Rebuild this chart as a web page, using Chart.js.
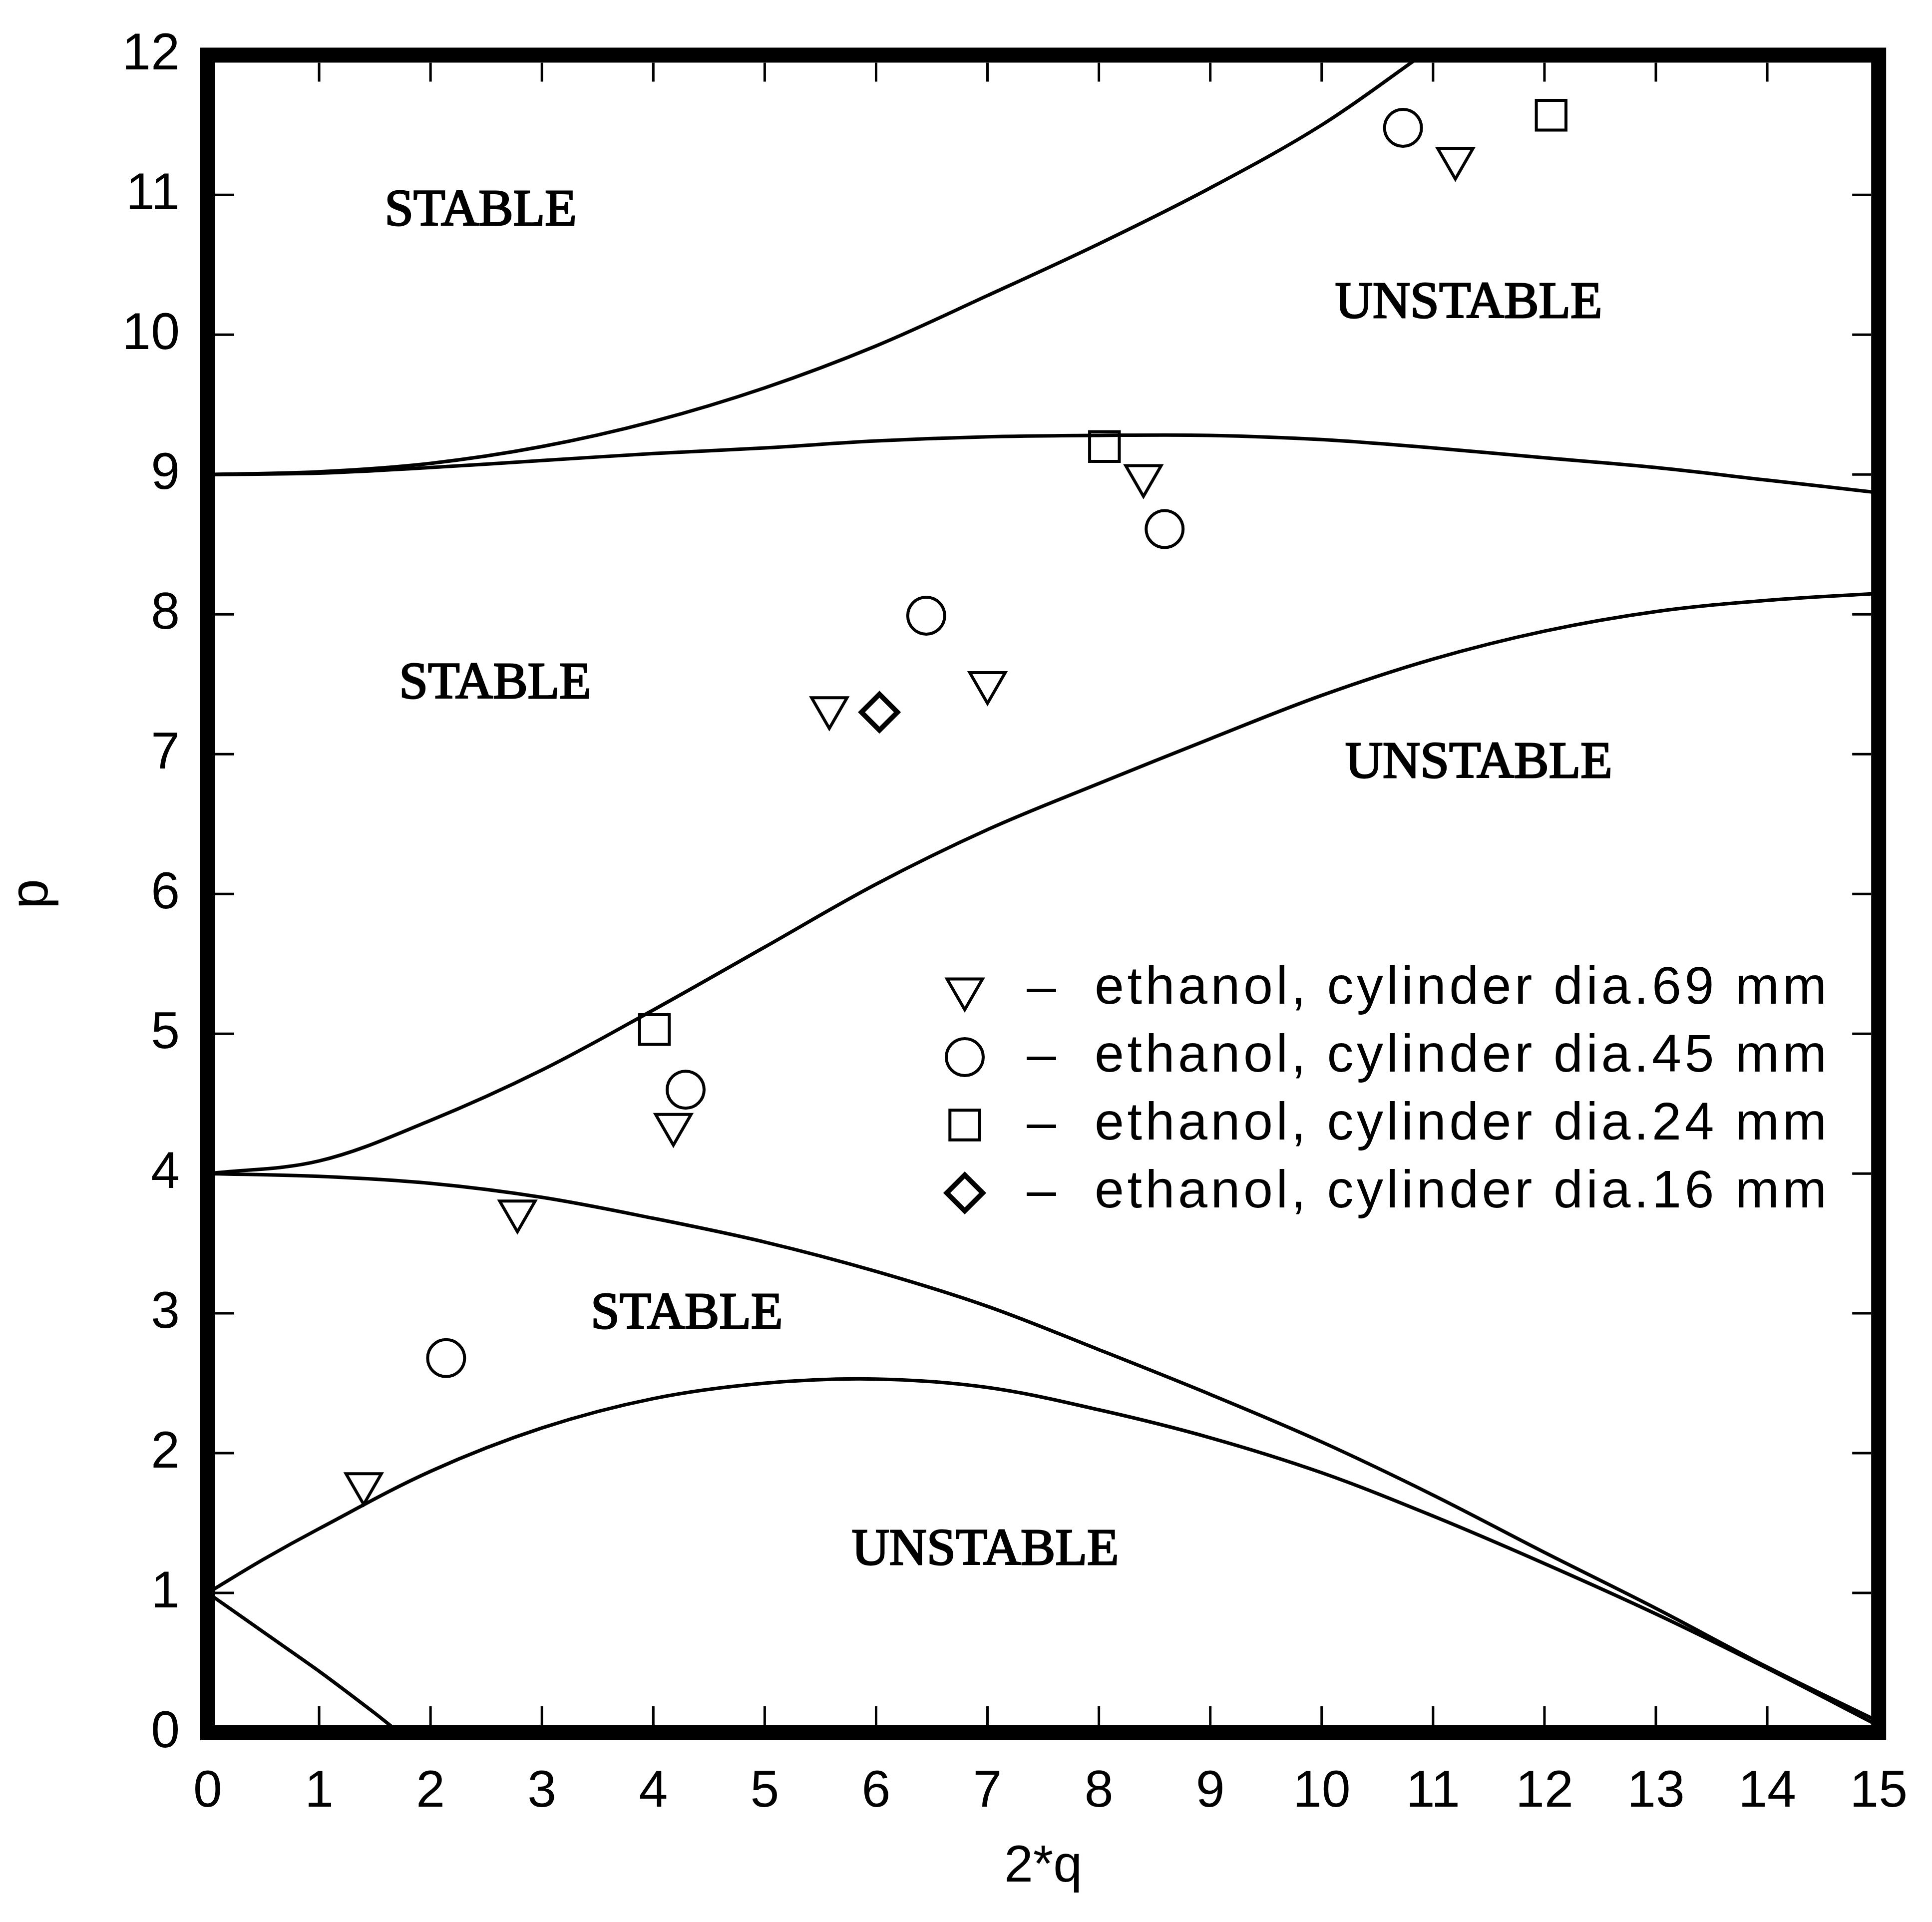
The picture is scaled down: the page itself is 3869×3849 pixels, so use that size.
<!DOCTYPE html>
<html>
<head>
<meta charset="utf-8">
<title>Mathieu stability chart</title>
<script src="https://cdn.jsdelivr.net/npm/chart.js@4.4.1/dist/chart.umd.min.js"></script>
<style>
  html, body { margin: 0; padding: 0; background: #fff; }
  canvas { display: block; }
</style>
</head>
<body>
<canvas id="stability" width="3869" height="3849"></canvas>
<script>
// Boundary curves, p against 2*q
const b1Q = [0, 0.5, 1, 1.5, 1.72];
const b1P = [1.00, 0.72, 0.44, 0.14, 0.00];

const a1Q = [0, 0.5, 1, 2, 3, 4, 5, 6, 7, 8, 9, 10, 11, 12, 13, 14, 15];
const a1P = [1.00, 1.24, 1.46, 1.87, 2.18, 2.39, 2.50, 2.53, 2.47, 2.31, 2.11, 1.86, 1.55, 1.21, 0.85, 0.46, 0.05];

const b2Q = [0, 1, 2, 3, 4, 5, 6, 7, 8, 9, 10, 11, 12, 13, 14, 15];
const b2P = [4.00, 3.98, 3.93, 3.83, 3.68, 3.51, 3.30, 3.05, 2.74, 2.42, 2.08, 1.70, 1.29, 0.89, 0.47, 0.08];

const a2Q = [0, 1, 2, 3, 4, 5, 6, 7, 8, 9, 10, 11, 12, 13, 14, 15];
const a2P = [4.00, 4.09, 4.38, 4.74, 5.17, 5.62, 6.07, 6.46, 6.79, 7.11, 7.42, 7.68, 7.88, 8.02, 8.10, 8.15];

const b3Q = [0, 1, 2, 3, 4, 5, 6, 7, 8, 9, 10, 11, 12, 13, 14, 15];
const b3P = [9.00, 9.01, 9.05, 9.10, 9.15, 9.19, 9.24, 9.27, 9.28, 9.28, 9.25, 9.19, 9.12, 9.05, 8.96, 8.87];

const a3Q = [0, 1, 2, 3, 4, 5, 6, 7, 8, 9, 10, 10.9];
const a3P = [9.00, 9.02, 9.08, 9.20, 9.38, 9.62, 9.92, 10.28, 10.65, 11.05, 11.50, 12.00];

// Measured points, one set per cylinder
const dia69Q = [1.40, 2.78, 4.18, 5.58, 7.00, 8.40, 11.20];
const dia69P = [1.78, 3.73, 4.35, 7.33, 7.51, 8.99, 11.26];

const dia45Q = [2.14, 4.29, 6.45, 8.59, 10.73];
const dia45P = [2.68, 4.60, 7.99, 8.61, 11.48];

const dia24Q = [4.01, 8.05, 12.06];
const dia24P = [5.03, 9.20, 11.57];

const dia16Q = [6.03];
const dia16P = [7.30];

const seriesLabels = [
    'ethanol, cylinder dia.69 mm',
    'ethanol, cylinder dia.45 mm',
    'ethanol, cylinder dia.24 mm',
    'ethanol, cylinder dia.16 mm'
];

// Region captions, placed in data units
const regionText = ['STABLE', 'UNSTABLE', 'STABLE', 'UNSTABLE', 'STABLE', 'UNSTABLE'];
const regionQ = [2.45, 11.32, 2.58, 11.41, 4.30, 6.98];
const regionP = [10.88, 10.22, 7.50, 6.93, 2.99, 1.30];

const tickFont = { family: 'Liberation Sans', size: 104 };

const toPoints = (qs, ps) => qs.map((q, i) => ({ x: q, y: ps[i] }));

const curve = (qs, ps, tension = 0.35) => ({
    data: toPoints(qs, ps),
    showLine: true,
    borderColor: '#000',
    borderWidth: 7,
    pointRadius: 0,
    tension,
    fill: false
});

const markers = (label, qs, ps, style, radius, width, rotation = 0) => ({
    label,
    data: toPoints(qs, ps),
    showLine: false,
    pointStyle: style,
    pointRadius: radius,
    pointRotation: rotation,
    pointBorderWidth: width,
    pointBorderColor: '#000',
    pointBackgroundColor: 'rgba(0,0,0,0)'
});

const curveSets = [
    curve(b1Q, b1P, 0.2),
    curve(a1Q, a1P),
    curve(b2Q, b2P),
    curve(a2Q, a2P),
    curve(b3Q, b3P),
    curve(a3Q, a3P)
];

const markerSets = [
    markers(seriesLabels[0], dia69Q, dia69P, 'triangle', 41, 6, 180),
    markers(seriesLabels[1], dia45Q, dia45P, 'circle', 37, 6),
    markers(seriesLabels[2], dia24Q, dia24P, 'rect', 42, 6),
    markers(seriesLabels[3], dia16Q, dia16P, 'rectRot', 36, 10)
];

// Heavy frame, inward ticks, region captions and the key
const framePlugin = {
    id: 'framePlugin',
    beforeDraw(chart) {
        const ctx = chart.ctx;
        ctx.save();
        ctx.fillStyle = '#fff';
        ctx.fillRect(0, 0, chart.width, chart.height);
        ctx.restore();
    },
    afterDatasetsDraw(chart) {
        const { ctx, chartArea: a, scales: { x, y } } = chart;
        ctx.save();
        ctx.strokeStyle = '#000';
        ctx.lineWidth = 30;
        ctx.lineJoin = 'miter';
        ctx.strokeRect(a.left, a.top, a.right - a.left, a.bottom - a.top);

        ctx.lineWidth = 5;
        ctx.beginPath();
        x.ticks.forEach(t => {
            if (t.value <= x.min || t.value >= x.max) return;
            const px = x.getPixelForValue(t.value);
            ctx.moveTo(px, a.bottom - 15);
            ctx.lineTo(px, a.bottom - 53);
            ctx.moveTo(px, a.top + 15);
            ctx.lineTo(px, a.top + 53);
        });
        y.ticks.forEach(t => {
            if (t.value <= y.min || t.value >= y.max) return;
            const py = y.getPixelForValue(t.value);
            ctx.moveTo(a.left + 15, py);
            ctx.lineTo(a.left + 53, py);
            ctx.moveTo(a.right - 15, py);
            ctx.lineTo(a.right - 53, py);
        });
        ctx.stroke();

        ctx.font = '104px "Liberation Serif"';
        ctx.textAlign = 'center';
        ctx.textBaseline = 'middle';
        ctx.fillStyle = '#000';
        ctx.lineWidth = 3;
        regionText.forEach((txt, i) => {
            const px = x.getPixelForValue(regionQ[i]);
            const py = y.getPixelForValue(regionP[i]);
            ctx.fillText(txt, px, py);
            ctx.strokeText(txt, px, py);
        });
        ctx.restore();
    },
    afterDraw(chart) {
        const ctx = chart.ctx;
        const rowY = [1981, 2117, 2253, 2389];
        ctx.save();
        ctx.font = '106px "Liberation Sans"';
        ctx.textBaseline = 'middle';
        ctx.textAlign = 'left';
        markerSets.forEach((ds, i) => {
            const yRow = rowY[i];
            ctx.strokeStyle = '#000';
            ctx.fillStyle = 'rgba(0,0,0,0)';
            ctx.lineWidth = ds.pointBorderWidth;
            Chart.helpers.drawPoint(ctx, {
                pointStyle: ds.pointStyle,
                rotation: ds.pointRotation,
                radius: ds.pointRadius,
                borderWidth: ds.pointBorderWidth
            }, 1932, yRow);

            ctx.fillStyle = '#000';
            ctx.letterSpacing = '0px';
            ctx.fillText('\u2013', 2056, yRow);
            // spread the label out to the plotter spacing
            const plain = ctx.measureText(ds.label).width;
            const gap = (1466 - plain) / (ds.label.length - 1);
            ctx.letterSpacing = gap + 'px';
            ctx.fillText(ds.label, 2192, yRow);
        });
        ctx.restore();
    }
};

new Chart(document.getElementById('stability'), {
    type: 'scatter',
    data: { datasets: [...curveSets, ...markerSets] },
    options: {
        responsive: false,
        animation: false,
        events: [],
        layout: { padding: { left: 0, top: 108, right: 82, bottom: 0 } },
        plugins: {
            legend: { display: false },
            tooltip: { enabled: false }
        },
        scales: {
            x: {
                type: 'linear',
                min: 0,
                max: 15,
                grid: { display: false },
                border: { display: false },
                ticks: {
                    stepSize: 1,
                    autoSkip: false,
                    maxRotation: 0,
                    padding: 49,
                    color: '#000',
                    font: tickFont
                },
                title: {
                    display: true,
                    text: '2*q',
                    color: '#000',
                    font: tickFont,
                    padding: { top: 0, bottom: 47 }
                },
                afterFit: (scale) => { scale.height = 379; }
            },
            y: {
                type: 'linear',
                min: 0,
                max: 12,
                grid: { display: false },
                border: { display: false },
                ticks: {
                    stepSize: 1,
                    autoSkip: false,
                    padding: 48,
                    color: '#000',
                    font: tickFont
                },
                title: {
                    display: true,
                    text: 'p',
                    color: '#000',
                    font: { family: 'Liberation Sans', size: 108 },
                    padding: { top: 0, bottom: 0 }
                },
                afterFit: (scale) => { scale.width = 416; }
            }
        }
    },
    plugins: [framePlugin]
});
</script>
</body>
</html>
